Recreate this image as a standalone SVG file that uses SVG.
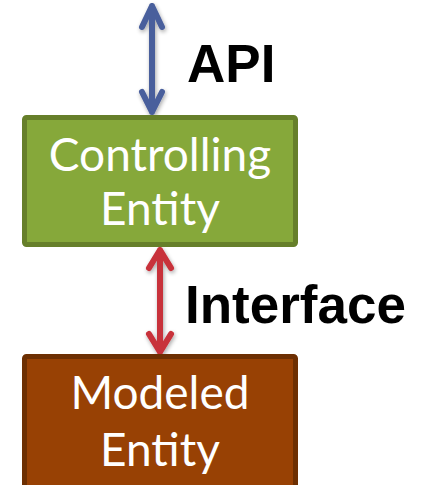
<svg xmlns="http://www.w3.org/2000/svg" width="424" height="485" viewBox="0 0 424 485">
  <style>
    .box-label { font-family: "Lato", "Open Sans", sans-serif; font-size: 46px; fill: #ffffff; text-anchor: middle; }
    .edge-label { font-family: "Liberation Sans", Arial, sans-serif; font-size: 53px; font-weight: bold; fill: #000000; }
    .shaft { fill: none; stroke-width: 6; stroke-linecap: round; stroke-linejoin: round; }
  </style>
  <defs>
    <filter id="shadow" x="-50%" y="-20%" width="200%" height="140%">
      <feGaussianBlur in="SourceAlpha" stdDeviation="2"/>
      <feOffset dx="1" dy="2" result="blur"/>
      <feComponentTransfer><feFuncA type="linear" slope="0.35"/></feComponentTransfer>
      <feMerge><feMergeNode/><feMergeNode in="SourceGraphic"/></feMerge>
    </filter>
  </defs>
  <rect width="424" height="485" fill="#ffffff"/>

  <g id="connectors">
    <!-- API: double-headed arrow above the controlling entity -->
    <g id="api-arrow" filter="url(#shadow)">
      <path class="shaft" stroke="#4a5f9c" d="M152,6 V112 M142,27 L152,6 L162,27 M142,92 L152,112 L162,92"/>
    </g>
    <!-- Interface: double-headed arrow between the two entities -->
    <g id="interface-arrow" filter="url(#shadow)">
      <path class="shaft" stroke="#c8303a" d="M160,250 V352 M149,268 L160,250 L171,268 M149,334 L160,352 L171,334"/>
    </g>
    <text class="edge-label" x="187" y="82">API</text>
    <text class="edge-label" x="185" y="323">Interface</text>
  </g>

  <g id="controlling-entity">
    <rect x="24.5" y="117.5" width="271" height="127" rx="2" fill="#86a83a" stroke="#667f2a" stroke-width="5"/>
    <text class="box-label" x="160" y="171">Controlling</text>
    <text class="box-label" x="160" y="225">Entity</text>
  </g>

  <g id="modeled-entity">
    <rect x="24.5" y="356.5" width="271" height="140" rx="2" fill="#984104" stroke="#6d2f02" stroke-width="5"/>
    <text class="box-label" x="160" y="409">Modeled</text>
    <text class="box-label" x="160" y="466">Entity</text>
  </g>
</svg>
